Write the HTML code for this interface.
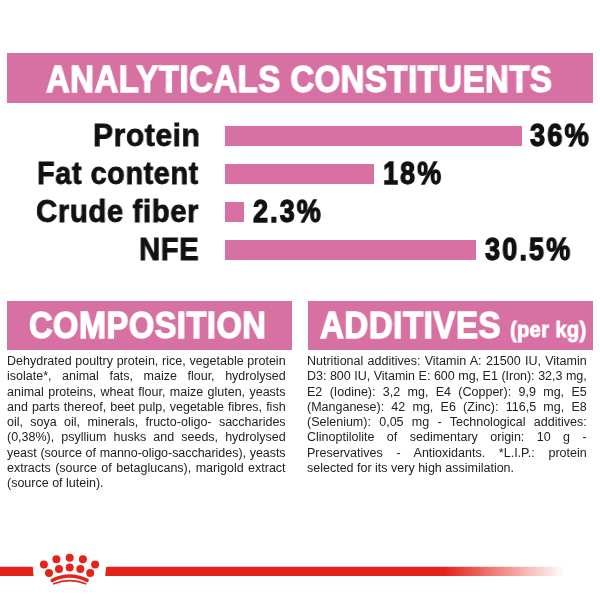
<!DOCTYPE html>
<html>
<head>
<meta charset="utf-8">
<style>
html,body{margin:0;padding:0;background:#fff;}
body{width:600px;height:600px;position:relative;overflow:hidden;font-family:"Liberation Sans",sans-serif;}
.abs{position:absolute;}
.pink{background:#d871a3;}
.t{position:absolute;white-space:pre;line-height:1;transform-origin:left top;will-change:transform;}
.bar{position:absolute;left:225px;height:19.6px;background:#d871a3;}
.txt{position:absolute;will-change:transform;color:#222;font-size:12.5px;line-height:15.31px;width:278px;}
.txt div{text-align:justify;text-align-last:justify;white-space:nowrap;height:15.31px;}
.txt div.last{text-align-last:left;}
</style>
</head>
<body>
<div class="abs pink" style="left:7px;top:53px;width:586px;height:49.5px;"></div>
<div class="bar" style="top:126.1px;width:296.5px;"></div>
<div class="bar" style="top:164.1px;width:148.5px;"></div>
<div class="bar" style="top:202.1px;width:19px;"></div>
<div class="bar" style="top:240.1px;width:251px;"></div>
<div class="abs pink" style="left:7px;top:300.5px;width:285px;height:49px;"></div>
<div class="abs pink" style="left:308px;top:300.5px;width:285px;height:49px;"></div>
<div class="t" style="left:45.72px;top:62.25px;font-size:36px;font-weight:bold;color:#fff;-webkit-text-stroke:1.4px #fff;letter-spacing:0.6px;transform:scaleX(0.9122);">ANALYTICALS CONSTITUENTS</div>
<div class="t" style="left:93.19px;top:120.25px;font-size:31px;font-weight:bold;color:#111;-webkit-text-stroke:0.8px #111;letter-spacing:0.6px;transform:scaleX(0.9678);">Protein</div>
<div class="t" style="left:36.83px;top:158.25px;font-size:31px;font-weight:bold;color:#111;-webkit-text-stroke:0.8px #111;letter-spacing:0.6px;transform:scaleX(0.9315);">Fat content</div>
<div class="t" style="left:35.78px;top:196.25px;font-size:31px;font-weight:bold;color:#111;-webkit-text-stroke:0.8px #111;letter-spacing:0.6px;transform:scaleX(0.9484);">Crude fiber</div>
<div class="t" style="left:138.96px;top:234.25px;font-size:31px;font-weight:bold;color:#111;-webkit-text-stroke:0.8px #111;letter-spacing:0.6px;transform:scaleX(0.9446);">NFE</div>
<div class="t" style="left:530.23px;top:120.25px;font-size:31px;font-weight:bold;color:#111;-webkit-text-stroke:1.3px #111;letter-spacing:2.5px;transform:scaleX(0.8756);">36%</div>
<div class="t" style="left:382.94px;top:158.25px;font-size:31px;font-weight:bold;color:#111;-webkit-text-stroke:1.3px #111;letter-spacing:2.5px;transform:scaleX(0.8671);">18%</div>
<div class="t" style="left:253.34px;top:196.25px;font-size:31px;font-weight:bold;color:#111;-webkit-text-stroke:1.3px #111;letter-spacing:2.5px;transform:scaleX(0.8677);">2.3%</div>
<div class="t" style="left:485.06px;top:234.25px;font-size:31px;font-weight:bold;color:#111;-webkit-text-stroke:1.3px #111;letter-spacing:2.5px;transform:scaleX(0.8713);">30.5%</div>
<div class="t" style="left:29.31px;top:308.25px;font-size:36px;font-weight:bold;color:#fff;-webkit-text-stroke:1.4px #fff;letter-spacing:0.6px;transform:scaleX(0.9040);">COMPOSITION</div>
<div class="t" style="left:319.71px;top:308.25px;font-size:36px;font-weight:bold;color:#fff;-webkit-text-stroke:1.4px #fff;letter-spacing:0.6px;transform:scaleX(0.9171);">ADDITIVES</div>
<div class="t" style="left:510.29px;top:319.25px;font-size:22px;font-weight:bold;color:#fff;-webkit-text-stroke:0.9px #fff;letter-spacing:0.4px;transform:scaleX(0.9122);">(per kg)</div>

<div class="txt" style="left:7px;top:354.2px;width:278.6px;">
<div>Dehydrated poultry protein, rice, vegetable protein</div>
<div>isolate*, animal fats, maize flour, hydrolysed</div>
<div>animal proteins, wheat flour, maize gluten, yeasts</div>
<div>and parts thereof, beet pulp, vegetable fibres, fish</div>
<div>oil, soya oil, minerals, fructo-oligo- saccharides</div>
<div>(0,38%), psyllium husks and seeds, hydrolysed</div>
<div style="letter-spacing:-0.04px">yeast (source of manno-oligo-saccharides), yeasts</div>
<div>extracts (source of betaglucans), marigold extract</div>
<div class="last">(source of lutein).</div>
</div>

<div class="txt" style="left:307.3px;top:354.2px;width:279.7px;">
<div>Nutritional additives: Vitamin A: 21500 IU, Vitamin</div>
<div style="letter-spacing:-0.03px">D3: 800 IU, Vitamin E: 600 mg, E1 (Iron): 32,3 mg,</div>
<div>E2 (Iodine): 3,2 mg, E4 (Copper): 9,9 mg, E5</div>
<div>(Manganese): 42 mg, E6 (Zinc): 116,5 mg, E8</div>
<div>(Selenium): 0,05 mg - Technological additives:</div>
<div>Clinoptilolite of sedimentary origin: 10 g -</div>
<div>Preservatives - Antioxidants. *L.I.P.: protein</div>
<div class="last">selected for its very high assimilation.</div>
</div>

<svg class="abs" style="left:0;top:540px;" width="600" height="60" viewBox="0 540 600 60">
<defs>
<linearGradient id="g" gradientUnits="userSpaceOnUse" x1="105" x2="565" y1="0" y2="0">
<stop offset="0" stop-color="#e3241c"/>
<stop offset="0.74" stop-color="#e3241c"/>
<stop offset="1" stop-color="#e3241c" stop-opacity="0"/>
</linearGradient>
</defs>
<polygon points="0,566.8 32.8,566.8 33.6,575.9 0,575.9" fill="#e3241c"/>
<polygon points="106.2,566.8 566,566.8 566,575.9 105.2,575.9" fill="url(#g)"/>
<g fill="#e3241c">
<circle cx="43.9" cy="564.5" r="4"/>
<circle cx="56.4" cy="559.3" r="4"/>
<circle cx="69.7" cy="557.7" r="4"/>
<circle cx="82.9" cy="559.3" r="4"/>
<circle cx="95.1" cy="564.5" r="4"/>
<circle cx="49" cy="573" r="4"/>
<circle cx="59" cy="569" r="4"/>
<circle cx="69.7" cy="567.6" r="4"/>
<circle cx="80.3" cy="569" r="4"/>
<circle cx="90.2" cy="573" r="4"/>
</g>
<path d="M52.3 580.4 Q69.7 571.7 87.1 580.4" fill="none" stroke="#e3241c" stroke-width="3.6" stroke-linecap="round"/>
<path d="M53.8 583.8 Q69.7 577.4 85.6 583.8" fill="none" stroke="#e3241c" stroke-width="1.7" stroke-linecap="round"/>
</svg>
</body>
</html>
